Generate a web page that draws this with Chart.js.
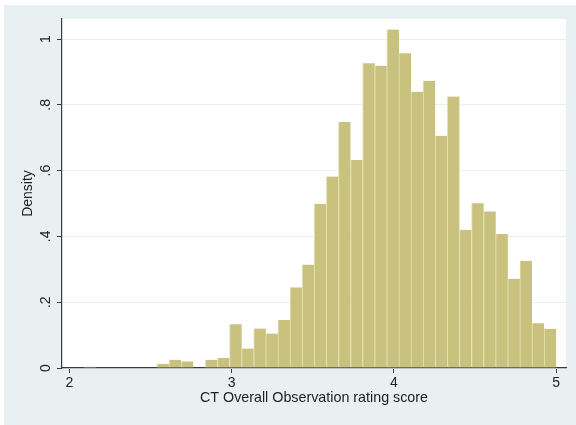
<!DOCTYPE html>
<html>
<head>
<meta charset="utf-8">
<script src="https://cdn.jsdelivr.net/npm/chart.js@4.4.1/dist/chart.umd.min.js"></script>
<style>
  html, body { margin: 0; padding: 0; background: #ffffff; }
  #wrap { position: relative; width: 576px; height: 425px; }
</style>
</head>
<body>
<div id="wrap"><canvas id="hist" width="576" height="425"></canvas></div>
<script>
// Histogram of CT overall observation rating scores (39 equal-width bins)
const binStart = 2.092;        // lower edge of the first bin
const binWidth = 0.07456;      // width of each bin
const density = [
  0.004, 0, 0, 0, 0, 0, 0.012, 0.025, 0.020, 0,
  0.025, 0.031, 0.133, 0.059, 0.120, 0.105, 0.146, 0.245, 0.314, 0.499,
  0.582, 0.748, 0.632, 0.926, 0.919, 1.029, 0.957, 0.840, 0.873, 0.706,
  0.825, 0.420, 0.501, 0.476, 0.407, 0.271, 0.326, 0.136, 0.119
];
const xTicks = [2, 3, 4, 5];
const xTickLabels = ['2', '3', '4', '5'];
const yTicks = [0, 0.2, 0.4, 0.6, 0.8, 1];
const yTickLabels = ['0', '.2', '.4', '.6', '.8', '1'];
const xTitle = 'CT Overall Observation rating score';
const yTitle = 'Density';

const bins = density.map((d, i) => ({ x: binStart + (i + 0.5) * binWidth, y: d }));

const FONT = '"Liberation Sans", Arial, Helvetica, sans-serif';
const INK = '#222222';
const AXIS = '#3a3a3a';
const GRID = '#e6eef1';

// graph region (light bluish gray) and white plot region
const backdrop = {
  id: 'backdrop',
  beforeDraw(chart) {
    const { ctx, chartArea: a } = chart;
    ctx.save();
    ctx.fillStyle = '#ffffff';
    ctx.fillRect(0, 0, chart.width, chart.height);
    ctx.fillStyle = '#e9f0f2';
    ctx.fillRect(4, 5, chart.width - 4, chart.height - 5);
    ctx.fillStyle = '#ffffff';
    ctx.fillRect(a.left, a.top, a.right - a.left, a.bottom - a.top);
    ctx.restore();
  }
};

new Chart(document.getElementById('hist'), {
  type: 'bar',
  data: {
    datasets: [{
      data: bins,
      backgroundColor: '#c9c27f',
      borderColor: '#e4e0b3',
      borderWidth: { left: 1, right: 0, top: 0, bottom: 0 },
      borderSkipped: false,
      barPercentage: 1,
      categoryPercentage: 1
    }]
  },
  options: {
    responsive: false,
    animation: false,
    layout: { padding: { top: 19, right: 10, bottom: 0, left: 0 } },
    plugins: { legend: { display: false }, tooltip: { enabled: false } },
    scales: {
      x: {
        type: 'linear',
        offset: false,
        min: 1.954,
        max: 5.06,
        afterBuildTicks(s) { s.ticks = xTicks.map(v => ({ value: v })); },
        afterFit(s) { s.height = 57; },
        grid: { display: true, drawOnChartArea: false, offset: false, tickLength: 5, tickColor: AXIS, tickWidth: 1 },
        border: { color: AXIS, width: 1.2 },
        ticks: {
          padding: 2,
          color: INK,
          font: { family: FONT, size: 14 },
          maxRotation: 0, minRotation: 0,
          callback: (v, i) => xTickLabels[i]
        },
        title: {
          display: true, text: xTitle, color: INK,
          font: { family: FONT, size: 14.3 },
          padding: { top: 0, bottom: 18 }
        }
      },
      y: {
        type: 'linear',
        min: 0,
        max: 1.0608,
        afterBuildTicks(s) { s.ticks = yTicks.map(v => ({ value: v })); },
        afterFit(s) { s.width = 62; },
        grid: { color: GRID, lineWidth: 1, tickLength: 5, tickColor: AXIS, tickWidth: 1 },
        border: { color: AXIS, width: 1.2 },
        ticks: {
          padding: 5,
          color: INK,
          font: { family: FONT, size: 14 },
          minRotation: 90, maxRotation: 90,
          crossAlign: 'center',
          callback: (v, i) => yTickLabels[i]
        },
        title: {
          display: true, text: yTitle, color: INK,
          font: { family: FONT, size: 14 },
          padding: { top: 20, bottom: 0 }
        }
      }
    }
  },
  plugins: [backdrop]
});
</script>
</body>
</html>
